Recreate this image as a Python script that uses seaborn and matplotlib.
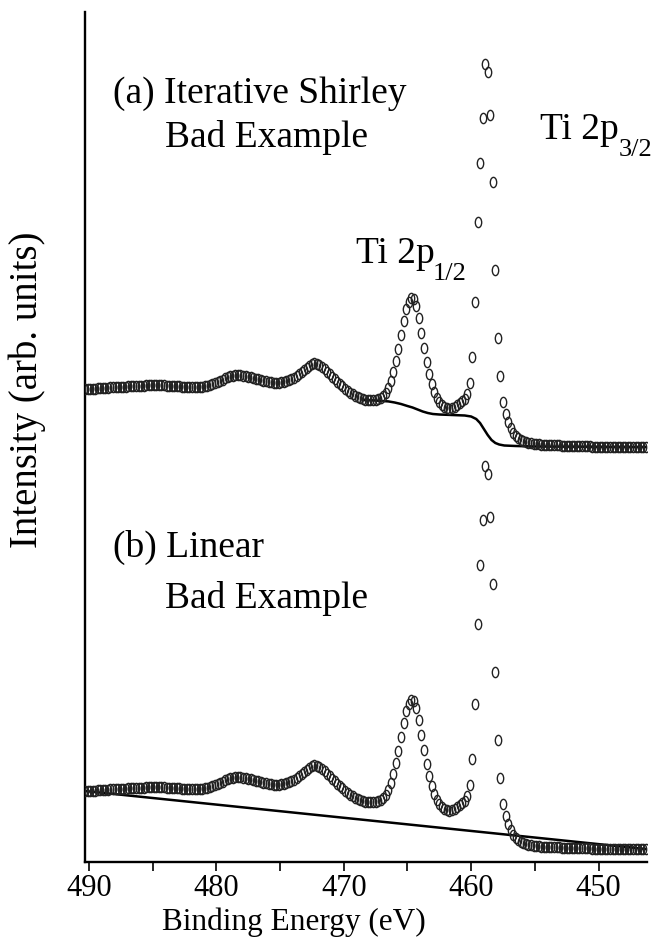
import numpy as np
import pandas as pd
import matplotlib
matplotlib.use("Agg")
import matplotlib.pyplot as plt
import seaborn as sns
from matplotlib.path import Path
from matplotlib.ticker import MultipleLocator

# ---------------- data ----------------
# Ti 2p XPS spectrum, energy grid (eV) of the instrument: start and step
E_START = 490.3
E_STEP = 0.2
intensity = [
    71, 71, 71, 71.5, 71.5, 72, 72, 72, 72.5, 72.5,          # 490.3 - 488.5
    73, 73, 73, 73, 73.5, 73.5, 73.5, 74, 74, 74,            # 488.3 - 486.5
    74, 74.5, 74.5, 74.5, 75, 75, 75, 75, 75, 75,            # 486.3 - 484.5
    75, 75, 74.5, 74.5, 74.5, 74, 74, 74, 73.5, 73.5,        # 484.3 - 482.5
    73.5, 73, 73, 73, 73, 73, 73.5, 74, 74.5, 75,            # 482.3 - 480.5
    76, 77, 78, 79, 80.5, 82, 83, 84, 84.5, 85,              # 480.3 - 478.5
    85, 85, 84.5, 84, 83.5, 83, 82, 81.5, 81, 80,            # 478.3 - 476.5
    79.5, 79, 78.5, 78, 77.5, 77.5, 77.5, 78, 78.5, 79,      # 476.3 - 474.5
    80, 81, 82, 84, 86, 88, 90, 92, 94, 96,                  # 474.3 - 472.5
    97, 96.5, 95, 93, 91, 88.5, 86, 83.5, 81, 78.5,          # 472.3 - 470.5
    76, 74, 71.5, 69.5, 67.5, 66, 64.5, 63, 62, 61,          # 470.3 - 468.5
    60.5, 60, 60, 60, 60.5, 61, 62, 64, 67, 72,              # 468.3 - 466.5
    79, 88, 99, 111, 125, 139, 151, 158, 162, 161,           # 466.3 - 464.5
    154, 142, 127, 112, 98, 86, 76, 68, 62, 58,              # 464.3 - 462.5
    55, 53, 52, 51.5, 52, 53, 55, 57, 59, 61,                # 462.3 - 460.5
    66, 77, 103, 158, 238, 297, 342, 396, 388, 345,          # 460.3 - 458.5
    278, 190, 122, 84, 58, 46, 38, 32, 27, 24,               # 458.3 - 456.5
    22, 20, 19, 18, 17.5, 17, 16.5, 16, 16, 15.5,            # 456.3 - 454.5
    15.5, 15.5, 15, 15, 15, 15, 15, 14.5, 14.5, 14.5,        # 454.3 - 452.5
    14.5, 14.5, 14, 14, 14, 14, 14, 14, 14, 13.5,            # 452.3 - 450.5
    13.5, 13.5, 13.5, 13.5, 13.5, 13.5, 13.5, 13.5, 13, 13,  # 450.3 - 448.5
    13, 13, 13, 13, 13, 13, 13, 13, 13, 13,                  # 448.3 - 446.5
    13,                                                      # 446.3
]
energy = np.round(E_START - E_STEP * np.arange(len(intensity)), 2)

# Iterative Shirley background (drawn over the fit range)
shirley_E = [468.5, 468, 467.5, 467, 466.5, 466, 465.5, 465, 464.6, 464.2,
             463.8, 463.4, 463, 462.5, 461.5, 460.5, 460, 459.6, 459.3, 459,
             458.7, 458.4, 458.1, 457.8, 457.4, 456.5, 455, 446.3]
shirley_I = [60.2, 59.8, 59.5, 59, 58.6, 57.5, 56, 54, 52.5, 50.5,
             48.5, 47, 46, 45.5, 45, 44.5, 43.5, 41, 37, 31,
             25, 20, 17, 15.5, 14.5, 14, 13.5, 13]

# Linear background (panel b): end points
linear_E = [490.3, 446.3]
linear_I = [71, 13]

# vertical offsets of the two stacked spectra
offsets = {"a": 402, "b": 0}

panel_text = {
    "a": ["(a) Iterative Shirley", "Bad Example"],
    "b": ["(b) Linear", "Bad Example"],
}
x_ticks = [490, 480, 470, 460, 450]

# ---------------- style ----------------
sns.set_theme(style="white")
plt.rcParams["font.family"] = ["Liberation Serif", "DejaVu Serif"]
plt.rcParams["text.color"] = "black"
plt.rcParams["axes.labelcolor"] = "black"
plt.rcParams["xtick.color"] = "black"

fig = plt.figure(figsize=(6.54, 9.5), dpi=100)
ax = fig.add_axes([85 / 654, 1 - 862 / 950, 562 / 654, 850 / 950])

# ellipse marker (like a small "0")
circ = Path.unit_circle()
ell = Path(circ.vertices * np.array([0.62, 1.0]), circ.codes)

df = pd.DataFrame({"E": energy, "I": intensity})

# backgrounds
sns.lineplot(x=np.array(shirley_E), y=np.array(shirley_I) + offsets["a"], ax=ax,
             color="black", lw=1.8, sort=False, zorder=2)
sns.lineplot(x=np.array(linear_E), y=np.array(linear_I) + offsets["b"], ax=ax,
             color="black", lw=1.8, sort=False, zorder=2)

# spectra
for key in ["a", "b"]:
    sns.lineplot(x=df["E"], y=df["I"] + offsets[key], ax=ax, ls="", marker=ell,
                 ms=7.4, mfc="none", mec="#222222", mew=1.0, color="#222222",
                 zorder=3)

ax.set_xlim(490.3, 446.2)
ax.set_ylim(0, 850)

# spines / ticks
for s in ["top", "right"]:
    ax.spines[s].set_visible(False)
for s in ["left", "bottom"]:
    ax.spines[s].set_linewidth(1.7)
    ax.spines[s].set_color("black")
ax.set_xticks(x_ticks)
ax.xaxis.set_minor_locator(MultipleLocator(5))
ax.tick_params(axis="x", which="both", bottom=True, direction="out",
               length=6.5, width=1.2, pad=2, labelsize=22, colors="black")
ax.set_yticks([])

ax.set_xlabel("Binding Energy (eV)", fontsize=22.5)
ax.set_ylabel("Intensity (arb. units)", fontsize=28)
ax.xaxis.set_label_coords(0.372, -0.054)
ax.yaxis.set_label_coords(-0.07, 0.555)

# annotations
FS = 27
ax.text(488.1, 759, panel_text["a"][0], fontsize=FS, ha="left", va="baseline")
ax.text(484.0, 715, panel_text["a"][1], fontsize=FS, ha="left", va="baseline")
ax.text(488.1, 305, panel_text["b"][0], fontsize=FS, ha="left", va="baseline")
ax.text(484.0, 254, panel_text["b"][1], fontsize=FS, ha="left", va="baseline")
# peak labels with lowered subscripts
ax.text(469.0, 599, "Ti 2p", fontsize=FS, ha="left", va="baseline")
ax.text(463.0, 582, "1/2", fontsize=19, ha="left", va="baseline")
ax.text(454.6, 723, "Ti 2p", fontsize=FS, ha="left", va="baseline")
ax.text(448.4, 706, "3/2", fontsize=19, ha="left", va="baseline")

fig.savefig("out.png", dpi=100)
